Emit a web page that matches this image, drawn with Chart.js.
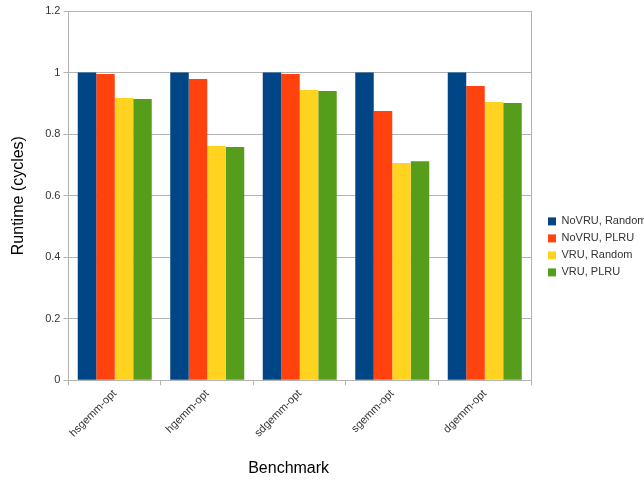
<!DOCTYPE html>
<html>
<head>
<meta charset="utf-8">
<script src="https://cdn.jsdelivr.net/npm/chart.js@4"></script>
<style>
  html, body { margin: 0; padding: 0; background: #fff; }
  #wrap { width: 644px; height: 481px; }
</style>
</head>
<body>
<div id="wrap"><canvas id="myChart"></canvas></div>
<script>
const benchmarks = ['hsgemm-opt', 'hgemm-opt', 'sdgemm-opt', 'sgemm-opt', 'dgemm-opt'];
const seriesNames = ['NoVRU, Random', 'NoVRU, PLRU', 'VRU, Random', 'VRU, PLRU'];
const noVruRandom = [1, 1, 1, 1, 1];
const noVruPlru = [0.995, 0.979, 0.995, 0.875, 0.956];
const vruRandom = [0.917, 0.761, 0.943, 0.706, 0.904];
const vruPlru = [0.914, 0.758, 0.940, 0.712, 0.901];
const yTicks = [0, 0.2, 0.4, 0.6, 0.8, 1, 1.2];

const colors = ['#004586', '#ff420e', '#ffd320', '#579d1c'];
const gridColor = '#b3b3b3';
const font = 'Liberation Sans, Arial, sans-serif';

const ctx = document.getElementById('myChart').getContext('2d');
const values = [noVruRandom, noVruPlru, vruRandom, vruPlru];

const chart = new Chart(ctx, {
  type: 'bar',
  data: {
    labels: benchmarks,
    datasets: seriesNames.map((name, i) => ({
      label: name,
      data: values[i],
      backgroundColor: colors[i],
      borderWidth: 0,
      categoryPercentage: 0.8,
      barPercentage: 1.0
    }))
  },
  options: {
    responsive: true,
    maintainAspectRatio: false,
    animation: false,
    layout: { padding: { top: 11, bottom: 3, left: 9, right: 0 } },
    plugins: {
      tooltip: { enabled: false },
      legend: {
        position: 'right',
        maxWidth: 102,
        // tiny empty title just nudges the centred entries down a little
        title: { display: true, text: ' ', font: { size: 4 }, padding: 0 },
        labels: {
          boxWidth: 8,
          boxHeight: 8,
          padding: 6,
          color: '#333',
          font: { family: font, size: 11 }
        }
      }
    },
    scales: {
      x: {
        grid: {
          offset: true,
          drawOnChartArea: false,
          color: gridColor,
          tickLength: 5
        },
        border: { color: gridColor },
        ticks: {
          color: '#333',
          font: { family: font, size: 11 },
          maxRotation: 45,
          minRotation: 45,
          padding: 2
        },
        title: {
          display: true,
          text: 'Benchmark     ',
          color: '#000',
          font: { family: font, size: 16 },
          padding: { top: 17, bottom: 0 }
        }
      },
      y: {
        min: 0,
        max: 1.2,
        afterBuildTicks: (axis) => { axis.ticks = yTicks.map(v => ({ value: v })); },
        grid: { color: gridColor, tickLength: 5 },
        border: { color: gridColor },
        ticks: {
          color: '#333',
          font: { family: font, size: 11 },
          padding: 3,
          callback: (v) => String(Math.round(v * 10) / 10)
        },
        title: {
          display: true,
          text: 'Runtime (cycles)',
          color: '#000',
          font: { family: font, size: 16 },
          padding: { top: 0, bottom: 14 }
        }
      },
      // bare right axis: frames the plot and leaves a gap before the legend
      yRight: {
        type: 'linear',
        position: 'right',
        min: 0,
        max: 1.2,
        grid: { drawOnChartArea: false, drawTicks: false },
        border: { display: true, color: gridColor },
        ticks: { display: false },
        afterFit: (axis) => { axis.width = 11; }
      }
    }
  }
});
</script>
</body>
</html>
